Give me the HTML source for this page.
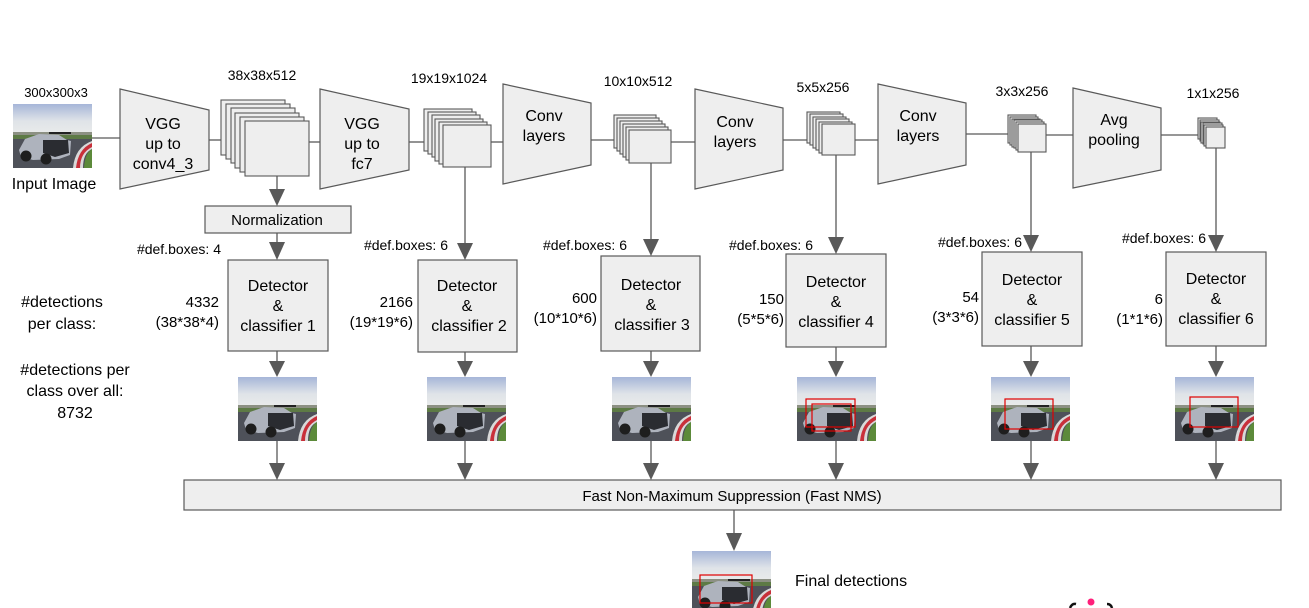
<!DOCTYPE html>
<html><head><meta charset="utf-8"><style>
html,body{margin:0;padding:0;background:#fff;}
svg{display:block;font-family:"Liberation Sans",Arial,sans-serif;}
</style></head><body>
<svg width="1309" height="608" viewBox="0 0 1309 608" xmlns="http://www.w3.org/2000/svg">
<defs>
<linearGradient id="sky" x1="0" y1="0" x2="0" y2="1"><stop offset="0" stop-color="#a6b6d8"/><stop offset="0.6" stop-color="#dfe3e8"/><stop offset="1" stop-color="#e8eaea"/></linearGradient>
<symbol id="th" viewBox="0 0 79 64">
<rect width="79" height="64" fill="#4e5159"/>
<rect width="79" height="28" fill="url(#sky)"/>
<rect y="28" width="79" height="3" fill="#8c9083"/>
<rect y="31" width="79" height="4" fill="#5d7a45"/>
<path d="M79 37 Q62 43 60 64 L70 64 Q70 49 79 45Z" fill="#d9d9d9"/>
<path d="M79 39 Q65 45 63 64 L67 64 Q67 49 79 43Z" fill="#c8303a"/>
<path d="M79 45 Q72 49 71 64 L79 64Z" fill="#5c8a3a"/>
<path d="M6 46 L12 35 L26 30 L46 31 L54 36 L58 37 L57 51 L46 55 L20 56 L8 53Z" fill="#aeb3bd"/>
<path d="M30 36 L55 36 L56 49 L42 53 L30 49Z" fill="#2a2c31"/>
<circle cx="13" cy="52" r="5.5" fill="#1e1e1e"/><circle cx="33" cy="55" r="5.5" fill="#1e1e1e"/>
<rect x="36" y="28" width="22" height="2" fill="#222"/>
</symbol>
</defs>

<g stroke="#595959" stroke-width="1.3" fill="none">
<line x1="92" y1="138" x2="120" y2="138"/>
<line x1="209" y1="140" x2="221" y2="140"/>
<line x1="309" y1="142" x2="320" y2="142"/>
<line x1="409" y1="142" x2="424" y2="142"/>
<line x1="491" y1="142" x2="503" y2="142"/>
<line x1="591" y1="140" x2="614" y2="140"/>
<line x1="671" y1="142" x2="695" y2="142"/>
<line x1="783" y1="140" x2="807" y2="140"/>
<line x1="855" y1="140" x2="878" y2="140"/>
<line x1="966" y1="134" x2="1008" y2="134"/>
<line x1="1046" y1="135" x2="1073" y2="135"/>
<line x1="1161" y1="135" x2="1198" y2="135"/>
</g>

<text x="56" y="97" font-size="13" text-anchor="middle">300x300x3</text>
<use href="#th" x="13" y="104" width="79" height="64"/>
<text x="54" y="189" font-size="16" text-anchor="middle">Input Image</text>

<g fill="#eeeeee" stroke="#595959" stroke-width="1.2">
<polygon points="120,89 209,110 209,170 120,189"/>
<polygon points="320,89 409,109 409,170 320,189"/>
<polygon points="503,84 591,103 591,165 503,184"/>
<polygon points="695,89 783,108 783,170 695,189"/>
<polygon points="878,84 966,103 966,165 878,184"/>
<polygon points="1073,88 1161,108 1161,170 1073,188"/>
</g>
<g font-size="16" text-anchor="middle">
<text x="163" y="129">VGG</text><text x="163" y="149">up to</text><text x="163" y="169">conv4_3</text>
<text x="362" y="129">VGG</text><text x="362" y="149">up to</text><text x="362" y="169">fc7</text>
<text x="544" y="121">Conv</text><text x="544" y="141">layers</text>
<text x="735" y="127">Conv</text><text x="735" y="147">layers</text>
<text x="918" y="121">Conv</text><text x="918" y="141">layers</text>
<text x="1114" y="125">Avg</text><text x="1114" y="145">pooling</text>
</g>

<g fill="#eeeeee" stroke="#595959" stroke-width="1.1">
<rect x="221" y="100" width="64" height="55"/><rect x="226" y="104" width="64" height="55"/><rect x="231" y="108" width="64" height="55"/><rect x="235" y="113" width="64" height="55"/><rect x="240" y="117" width="64" height="55"/><rect x="245" y="121" width="64" height="55"/>
<rect x="424" y="109" width="48" height="42"/><rect x="428" y="112" width="48" height="42"/><rect x="432" y="115" width="48" height="42"/><rect x="435" y="119" width="48" height="42"/><rect x="439" y="122" width="48" height="42"/><rect x="443" y="125" width="48" height="42"/>
<rect x="614" y="115" width="42" height="33"/><rect x="617" y="118" width="42" height="33"/><rect x="620" y="121" width="42" height="33"/><rect x="623" y="124" width="42" height="33"/><rect x="626" y="127" width="42" height="33"/><rect x="629" y="130" width="42" height="33"/>
<rect x="807" y="112" width="33" height="31"/><rect x="810" y="114" width="33" height="31"/><rect x="813" y="117" width="33" height="31"/><rect x="816" y="119" width="33" height="31"/><rect x="819" y="122" width="33" height="31"/><rect x="822" y="124" width="33" height="31"/>
<rect x="1008" y="115" width="28" height="28"/><rect x="1010" y="117" width="28" height="28"/><rect x="1012" y="119" width="28" height="28"/><rect x="1014" y="120" width="28" height="28"/><rect x="1016" y="122" width="28" height="28"/><rect x="1018" y="124" width="28" height="28"/>
<rect x="1198" y="118" width="19" height="21"/><rect x="1200" y="120" width="19" height="21"/><rect x="1201" y="122" width="19" height="21"/><rect x="1203" y="123" width="19" height="21"/><rect x="1204" y="125" width="19" height="21"/><rect x="1206" y="127" width="19" height="21"/>
</g>
<g font-size="14" text-anchor="middle">
<text x="262" y="80">38x38x512</text>
<text x="449" y="83">19x19x1024</text>
<text x="638" y="86">10x10x512</text>
<text x="823" y="92">5x5x256</text>
<text x="1022" y="96">3x3x256</text>
<text x="1213" y="98">1x1x256</text>
</g>

<rect x="205" y="206" width="146" height="27" fill="#eeeeee" stroke="#595959" stroke-width="1.2"/>
<text x="277" y="225" font-size="15" text-anchor="middle">Normalization</text>

<g stroke="#595959" stroke-width="1.3">
<line x1="277" y1="176" x2="277" y2="190"/><line x1="277" y1="233" x2="277" y2="242"/>
<line x1="465" y1="167" x2="465" y2="244"/>
<line x1="651" y1="163" x2="651" y2="240"/>
<line x1="836" y1="155" x2="836" y2="238"/>
<line x1="1031" y1="152" x2="1031" y2="236"/>
<line x1="1216" y1="148" x2="1216" y2="236"/>
<line x1="277" y1="351" x2="277" y2="362"/><line x1="465" y1="352" x2="465" y2="362"/><line x1="651" y1="351" x2="651" y2="362"/><line x1="836" y1="347" x2="836" y2="362"/><line x1="1031" y1="346" x2="1031" y2="362"/><line x1="1216" y1="346" x2="1216" y2="362"/>
<line x1="277" y1="440" x2="277" y2="464"/><line x1="465" y1="440" x2="465" y2="464"/><line x1="651" y1="440" x2="651" y2="464"/><line x1="836" y1="440" x2="836" y2="464"/><line x1="1031" y1="440" x2="1031" y2="464"/><line x1="1216" y1="440" x2="1216" y2="464"/>
<line x1="734" y1="510" x2="734" y2="534"/>
</g>
<g fill="#595959">
<polygon points="269,189 285,189 277,206"/><polygon points="269,242 285,242 277,260"/>
<polygon points="457,243 473,243 465,260"/>
<polygon points="643,239 659,239 651,256"/>
<polygon points="828,237 844,237 836,254"/>
<polygon points="1023,235 1039,235 1031,252"/>
<polygon points="1208,235 1224,235 1216,252"/>
<polygon points="269,361 285,361 277,377"/><polygon points="457,361 473,361 465,377"/><polygon points="643,361 659,361 651,377"/><polygon points="828,361 844,361 836,377"/><polygon points="1023,361 1039,361 1031,377"/><polygon points="1208,361 1224,361 1216,377"/>
<polygon points="269,463 285,463 277,480"/><polygon points="457,463 473,463 465,480"/><polygon points="643,463 659,463 651,480"/><polygon points="828,463 844,463 836,480"/><polygon points="1023,463 1039,463 1031,480"/><polygon points="1208,463 1224,463 1216,480"/>
<polygon points="726,533 742,533 734,551"/>
</g>

<g font-size="14" text-anchor="end">
<text x="221" y="254">#def.boxes: 4</text>
<text x="448" y="250">#def.boxes: 6</text>
<text x="627" y="250">#def.boxes: 6</text>
<text x="813" y="250">#def.boxes: 6</text>
<text x="1022" y="247">#def.boxes: 6</text>
<text x="1206" y="243">#def.boxes: 6</text>
</g>

<g fill="#eeeeee" stroke="#595959" stroke-width="1.2">
<rect x="228" y="260" width="100" height="91"/>
<rect x="418" y="260" width="99" height="92"/>
<rect x="601" y="256" width="99" height="95"/>
<rect x="786" y="254" width="100" height="93"/>
<rect x="982" y="252" width="100" height="94"/>
<rect x="1166" y="252" width="100" height="94"/>
</g>
<g font-size="16" text-anchor="middle">
<text x="278" y="291">Detector</text><text x="278" y="311">&amp;</text><text x="278" y="331">classifier 1</text>
<text x="467" y="291">Detector</text><text x="467" y="311">&amp;</text><text x="469" y="331">classifier 2</text>
<text x="651" y="290">Detector</text><text x="651" y="310">&amp;</text><text x="652" y="330">classifier 3</text>
<text x="836" y="287">Detector</text><text x="836" y="307">&amp;</text><text x="836" y="327">classifier 4</text>
<text x="1032" y="285">Detector</text><text x="1032" y="305">&amp;</text><text x="1032" y="325">classifier 5</text>
<text x="1216" y="284">Detector</text><text x="1216" y="304">&amp;</text><text x="1216" y="324">classifier 6</text>
</g>
<g font-size="15" text-anchor="end">
<text x="219" y="307">4332</text><text x="219" y="327">(38*38*4)</text>
<text x="413" y="307">2166</text><text x="413" y="327">(19*19*6)</text>
<text x="597" y="303">600</text><text x="597" y="323">(10*10*6)</text>
<text x="784" y="304">150</text><text x="784" y="324">(5*5*6)</text>
<text x="979" y="302">54</text><text x="979" y="322">(3*3*6)</text>
<text x="1163" y="304">6</text><text x="1163" y="324">(1*1*6)</text>
</g>
<g font-size="16" text-anchor="middle">
<text x="62" y="307">#detections</text><text x="62" y="329">per class:</text>
<text x="75" y="375">#detections per</text><text x="75" y="396">class over all:</text><text x="75" y="418">8732</text>
</g>

<use href="#th" x="238" y="377" width="79" height="64"/>
<use href="#th" x="427" y="377" width="79" height="64"/>
<use href="#th" x="612" y="377" width="79" height="64"/>
<use href="#th" x="797" y="377" width="79" height="64"/>
<use href="#th" x="991" y="377" width="79" height="64"/>
<use href="#th" x="1175" y="377" width="79" height="64"/>
<g fill="none" stroke="#e00000" stroke-width="1.2">
<rect x="806" y="399" width="49" height="28"/><rect x="812" y="404" width="39" height="27"/>
<rect x="1005" y="399" width="48" height="30"/>
<rect x="1190" y="397" width="48" height="30"/>
</g>

<rect x="184" y="480" width="1097" height="30" fill="#eeeeee" stroke="#595959" stroke-width="1.2"/>
<text x="732" y="501" font-size="15" text-anchor="middle">Fast Non-Maximum Suppression (Fast NMS)</text>

<use href="#th" x="692" y="551" width="79" height="64"/>
<g fill="none" stroke="#e00000" stroke-width="1.2"><rect x="700" y="575" width="52" height="28"/></g>
<text x="795" y="586" font-size="16">Final detections</text>
<circle cx="1091" cy="602" r="3.5" fill="#ff1f7a"/>
<path d="M1070 608 Q1072 603 1076 604" stroke="#111" stroke-width="2.5" fill="none"/>
<path d="M1107 604 Q1111 604 1112 608" stroke="#111" stroke-width="2.5" fill="none"/>
</svg>
</body></html>
